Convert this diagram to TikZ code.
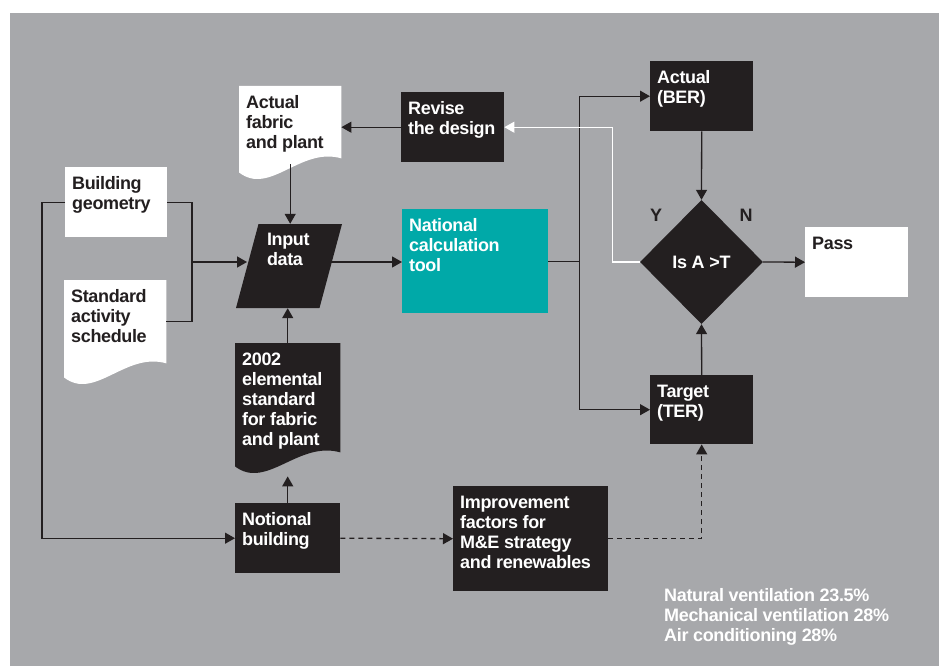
\documentclass[tikz,border=0pt]{standalone}
\usepackage{fontspec}
\setmainfont{Liberation Sans}[LetterSpace=-2]
\usetikzlibrary{arrows.meta,positioning,shapes.geometric,calc,backgrounds}

\definecolor{bggray}{HTML}{A7A8AB}
\definecolor{boxblack}{HTML}{231F20}
\definecolor{calcteal}{HTML}{00A9A8}

\newcommand{\boxfont}{\bfseries\fontsize{18}{20}\selectfont}
% text at the top left of a box: width, height, text
\newcommand{\boxlabel}[3]{\parbox[t][#2][t]{#1}{\raggedright\vspace{9.5pt}#3}}
% document outline with a wavy bottom
\newcommand{\docfill}[2]{%
  \fill[#2] (#1.north west) -- (#1.north east) -- (#1.south east)
    .. controls ($(#1.south west)!0.6!(#1.south east)+(0,-12)$)
    and ($(#1.south west)!0.3!(#1.south east)+(0,38)$)
    .. ($(#1.south west)+(0,14)$) -- cycle;}

\begin{document}
\begin{tikzpicture}[x=1pt, y=-1pt,
  blackbox/.style={rectangle, fill=boxblack, text=white, anchor=north west,
                   inner xsep=7pt, inner ysep=0pt, font=\boxfont},
  whitebox/.style={blackbox, fill=white, text=boxblack},
  tealbox/.style={blackbox, fill=calcteal},
  docnode/.style={blackbox, fill=none, text=boxblack},
  dataslant/.style={trapezium, trapezium left angle=75, trapezium right angle=105,
                    trapezium stretches body, fill=boxblack, text=white,
                    minimum width=106pt, minimum height=84pt, inner sep=0pt, font=\boxfont},
  decision/.style={diamond, fill=boxblack, text=white, minimum width=123pt,
                   minimum height=124pt, inner sep=0pt, font=\boxfont},
  yn/.style={text=boxblack, inner sep=0pt, font=\boxfont},
  notetext/.style={anchor=north west, inner sep=0pt, align=left, text=white, font=\boxfont},
  flow/.style={draw=boxblack, line width=1.3pt},
  arrow/.style={-{Triangle[length=10pt,width=11pt]}, draw=boxblack, line width=1.3pt},
  flowdash/.style={dash pattern=on 5pt off 4pt}
]

\useasboundingbox (0,0) rectangle (942,666);
\begin{scope}[on background layer]
  \fill[bggray] (10,13) rectangle (939,666);
\end{scope}

% Inputs on the left
\node[docnode] (fabric) at (239,86) {\boxlabel{88pt}{72pt}{Actual\\fabric\\and~plant}};
\node[whitebox] (geometry) at (65,167) {\boxlabel{88pt}{70pt}{Building\\geometry}};
\node[docnode] (schedule) at (64,280) {\boxlabel{88pt}{83pt}{Standard\\activity\\schedule}};
\node[dataslant] (inputdata) at (289,266) {\boxlabel{44pt}{84pt}{Input\\data}};
\node[docnode, text=white] (elemental) at (235,343)
  {\boxlabel{91pt}{109pt}{2002\\elemental\\standard\\for~fabric\\and~plant}};
\node[blackbox] (notional) at (235,503) {\boxlabel{91pt}{70pt}{Notional\\building}};

% Calculation and check
\node[blackbox] (revise) at (401,92) {\boxlabel{89pt}{70pt}{Revise\\the~design}};
\node[tealbox] (calctool) at (402,209) {\boxlabel{132pt}{104pt}{National\\calculation\\tool}};
\node[blackbox] (improve) at (453,486)
  {\boxlabel{141pt}{105pt}{Improvement\\factors~for\\M\&E~strategy\\and~renewables}};
\node[blackbox] (actual) at (650,61) {\boxlabel{89pt}{70pt}{Actual\\(BER)}};
\node[blackbox] (target) at (650,375) {\boxlabel{89pt}{69pt}{Target\\(TER)}};
\node[decision] (check) at (701.5,262) {Is A >T};
\node[whitebox] (pass) at (805,227) {\boxlabel{89pt}{70pt}{Pass}};
\node[yn] (yes) at (656,215) {Y};
\node[yn] (no) at (746,215) {N};

% Savings
\node[notetext] (savings) at (664,588)
  {Natural ventilation 23.5\%\\Mechanical ventilation 28\%\\Air conditioning 28\%};

% Document outlines
\begin{scope}[on background layer]
  \docfill{fabric}{white}
  \docfill{schedule}{white}
  \docfill{elemental}{boxblack}
\end{scope}

% Connections into the input data
\coordinate (merge) at (192,262);
\draw[flow] (geometry.east) -| (merge) |- (schedule.east);
\draw[arrow] (merge) -- (merge -| inputdata.west);
\draw[arrow, shorten <=6pt] (fabric.south) -- (fabric.south |- inputdata.north);
\draw[arrow] (elemental.north) -- (elemental.north |- inputdata.south);
\draw[arrow] (notional.north) -- ($(elemental.south)+(0,24)$);
\draw[arrow] (geometry.west) -- ++(-23,0) |- (notional.west);
\draw[arrow] (revise.west) -- (revise.west -| fabric.east);
\draw[arrow] (merge -| inputdata.east) -- (merge -| calctool.west);

% Connections to the results
\draw[arrow] (calctool.east) -- ++(31,0) |- (actual.west);
\draw[arrow] (calctool.east) -- ++(31,0) |- (target.west);
\draw[arrow] (actual.south) -- (check.north);
\draw[arrow] (target.north) -- (check.south);
\draw[arrow] (check.east) -- (pass.west);
\draw[arrow, draw=white] (check.west) -- ++(-27,0) |- (revise.east);

% Improvement route
\draw[arrow, flowdash] (notional.east) -- (improve.west);
\draw[arrow, flowdash] (improve.east) -| (target.south);

\end{tikzpicture}
\end{document}
